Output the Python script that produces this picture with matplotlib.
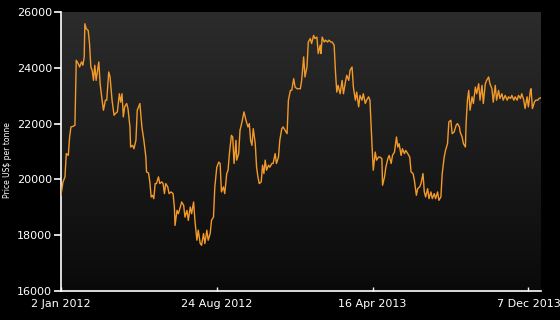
import numpy as np
import pandas as pd
import matplotlib
matplotlib.use("Agg")
import matplotlib.pyplot as plt

# tin price, US$ per tonne
START = pd.Timestamp("2012-01-02")
END_DAY = 724
DAYS = [
    0, 3, 6, 8, 11, 13, 15, 18, 21, 23, 26, 28, 31, 33, 35, 36, 38, 41, 43, 45,
    47, 49, 51, 53, 57, 59, 62, 64, 67, 69, 72, 74, 77, 80, 82, 85, 88, 90, 92, 94,
    96, 99, 101, 104, 105, 108, 110, 113, 115, 117, 119, 122, 125, 128, 129, 132, 134, 136, 138, 140,
    142, 144, 147, 149, 152, 154, 156, 158, 161, 163, 166, 169, 171, 172, 175, 177, 180, 182, 185, 187,
    190, 192, 195, 197, 200, 202, 205, 207, 210, 212, 215, 217, 220, 222, 225, 227, 230, 232, 235, 238,
    240, 242, 245, 247, 250, 252, 254, 257, 259, 261, 264, 265, 268, 270, 273, 276, 279, 282, 284, 286,
    288, 290, 293, 295, 297, 299, 302, 304, 306, 308, 310, 313, 315, 318, 320, 323, 325, 328, 330, 333,
    335, 338, 341, 343, 346, 348, 351, 353, 356, 358, 361, 363, 366, 368, 371, 373, 376, 378, 381, 383,
    386, 388, 391, 392, 394, 397, 399, 402, 404, 407, 409, 412, 414, 416, 418, 421, 424, 426, 429, 431,
    434, 436, 439, 441, 444, 446, 449, 451, 454, 456, 459, 461, 464, 466, 469, 471, 474, 476, 479, 481,
    484, 485, 488, 490, 493, 495, 498, 500, 503, 506, 508, 510, 513, 515, 518, 520, 523, 526, 528, 531,
    533, 536, 538, 541, 543, 546, 548, 550, 553, 555, 558, 560, 563, 565, 568, 570, 573, 575, 578, 580,
    583, 585, 588, 590, 593, 596, 598, 601, 602, 605, 607, 610, 611, 613, 615, 617, 620, 622, 625, 627,
    630, 632, 635, 637, 640, 642, 645, 647, 650, 652, 655, 657, 660, 662, 665, 667, 670, 673, 675, 678,
    680, 683, 685, 688, 690, 693, 695, 698, 700, 703, 705, 708, 709, 711, 714, 716, 719, 721, 724,
]
PRICE = [
    19430, 19910, 20090, 20925, 20860, 21520, 21880, 21900, 21940, 24270, 24150, 24030, 24210, 24090, 24390, 25580, 25400, 25340, 24870, 24030,
    23910, 23550, 24090, 23550, 24210, 23430, 22840, 22480, 22840, 22840, 23850, 23670, 22840, 22300, 22360, 22420, 23070, 22770, 23070, 22240,
    22600, 22720, 22540, 21880, 21160, 21220, 21100, 21400, 22480, 22600, 22720, 21880, 21400, 20800, 20270, 20230, 19910, 19370, 19430, 19310,
    19850, 19850, 20090, 19850, 19910, 19850, 19490, 19850, 19730, 19490, 19550, 19490, 19010, 18350, 18890, 18770, 19010, 19190, 19070, 18650,
    18890, 18530, 19010, 18770, 19190, 18530, 17820, 18180, 17700, 17640, 18060, 17700, 18180, 17820, 18060, 18530, 18650, 19730, 20440, 20620,
    20570, 19550, 19730, 19490, 20210, 20330, 20925, 21580, 21520, 20570, 21400, 20690, 20925, 21760, 22060, 22420, 22120, 21880, 22000, 21400,
    21220, 21820, 21280, 20440, 20090, 19850, 19910, 20510, 20210, 20690, 20330, 20510, 20440, 20570, 20570, 20925, 20570, 20800, 21400, 21820,
    21880, 21760, 21640, 22840, 23190, 23190, 23610, 23310, 23250, 23250, 23250, 23550, 24390, 23670, 24030, 24925, 25050, 24870, 25160, 25050,
    25100, 24510, 24810, 24510, 25100, 24925, 24990, 24925, 24990, 24925, 24925, 24810, 23850, 23130, 23370, 23070, 23550, 23070, 23490, 23730,
    23550, 23910, 24030, 23310, 22840, 23130, 22600, 23010, 22840, 23070, 22720, 22840, 22960, 22840, 21280, 20330, 20980, 20690, 20800, 20800,
    20745, 19790, 20090, 20440, 20745, 20860, 20570, 20860, 20980, 21520, 21160, 21280, 20860, 21100, 20925, 21040, 20925, 20800, 20270, 20210,
    19970, 19430, 19670, 19730, 19850, 20210, 19550, 19370, 19670, 19310, 19550, 19310, 19490, 19310, 19550, 19250, 19370, 20210, 20800, 21040,
    21280, 22060, 22120, 21640, 21700, 21940, 22000, 21880, 21700, 21520, 21280, 21160, 22000, 22840, 23190, 22480, 22960, 22720, 23310, 23070,
    23430, 22840, 23370, 22720, 23430, 23550, 23670, 23430, 23250, 22770, 23370, 22840, 23190, 22900, 23070, 22840, 23010, 22840, 22960, 22900,
    23010, 22840, 22960, 22840, 23010, 22900, 23070, 22840, 22540, 22960, 22600, 23190, 23250, 22540, 22770, 22840, 22840, 22900, 22930,
]
TICK_DATES = ["2012-01-02", "2012-08-24", "2013-04-16", "2013-12-07"]
TICK_LABELS = ["2 Jan 2012", "24 Aug 2012", "16 Apr 2013", "7 Dec 2013"]
Y_TICKS = [16000, 18000, 20000, 22000, 24000, 26000]

dates = START + pd.to_timedelta(DAYS, unit="D")

fig = plt.figure(figsize=(5.6, 3.2), dpi=100, facecolor="black")
ax = fig.add_axes([61 / 560, 1 - 291 / 320, 480 / 560, 279 / 320])
ax.set_facecolor("black")

# vertical grey gradient behind the plot area
grad = np.linspace(0, 1, 256).reshape(-1, 1)
cmap = matplotlib.colors.LinearSegmentedColormap.from_list(
    "bg", ["#0a0a0a", "#2c2c2c"])
ax.imshow(grad, aspect="auto", cmap=cmap, origin="lower",
          extent=(0, 1, 0, 1), transform=ax.transAxes, zorder=0)

ax.plot(dates, PRICE, color="#f39a28", lw=1.0, zorder=3)

ax.set_xlim(START, START + pd.Timedelta(days=END_DAY))
ax.set_ylim(16000, 26000)
ax.set_yticks(Y_TICKS)
ax.set_yticklabels([str(v) for v in Y_TICKS])
ax.set_xticks(pd.to_datetime(TICK_DATES))
ax.set_xticklabels(TICK_LABELS)

for side in ("top", "right"):
    ax.spines[side].set_visible(False)
for side in ("left", "bottom"):
    ax.spines[side].set_color("white")
    ax.spines[side].set_linewidth(1.2)
ax.tick_params(axis="y", direction="out", length=5, width=1.2,
               colors="white", labelsize=8, pad=1.5)
ax.tick_params(axis="x", direction="in", length=3, width=1.0,
               colors="white", labelsize=8, pad=6)

fig.text(8 / 560, 0.5, "Price US$ per tonne", rotation=90, color="white",
         fontsize=5.5, ha="center", va="center")

fig.savefig("out.png", dpi=100, facecolor="black")
